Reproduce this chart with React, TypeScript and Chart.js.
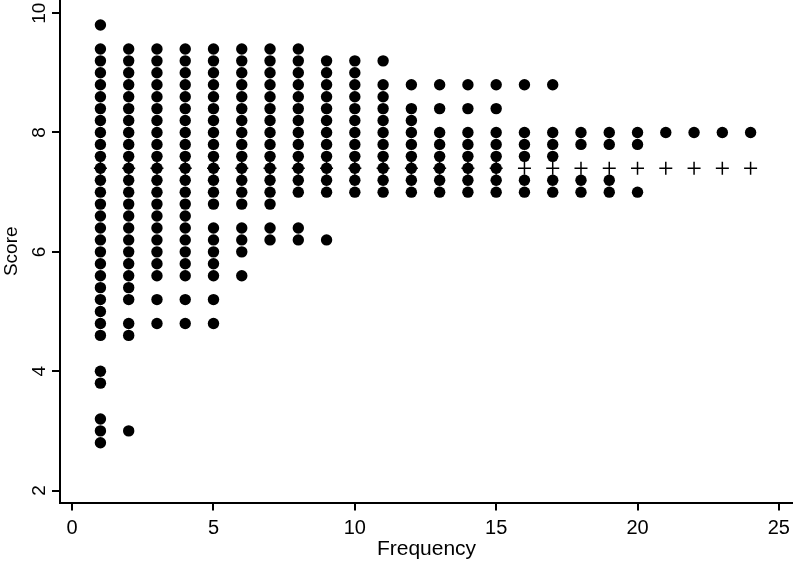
import { useEffect, useRef } from 'react';
import { Chart, registerables } from 'chart.js';

Chart.register(...registerables);

// Frequency values (x) for each column of scores
const frequencies = [1, 2, 3, 4, 5, 6, 7, 8, 9, 10, 11, 12, 13, 14, 15, 16, 17, 18, 19, 20, 21, 22, 23, 24];

// Scores observed at each frequency (one list per frequency, same order as above)
const scoresByFrequency: number[][] = [
  [9.8, 9.4, 9.2, 9.0, 8.8, 8.6, 8.4, 8.2, 8.0, 7.8, 7.6, 7.4, 7.2, 7.0, 6.8, 6.6, 6.4, 6.2, 6.0, 5.8, 5.6, 5.4, 5.2, 5.0, 4.8, 4.6, 4.0, 3.8, 3.2, 3.0, 2.8],
  [9.4, 9.2, 9.0, 8.8, 8.6, 8.4, 8.2, 8.0, 7.8, 7.6, 7.4, 7.2, 7.0, 6.8, 6.6, 6.4, 6.2, 6.0, 5.8, 5.6, 5.4, 5.2, 4.8, 4.6, 3.0],
  [9.4, 9.2, 9.0, 8.8, 8.6, 8.4, 8.2, 8.0, 7.8, 7.6, 7.4, 7.2, 7.0, 6.8, 6.6, 6.4, 6.2, 6.0, 5.8, 5.6, 5.2, 4.8],
  [9.4, 9.2, 9.0, 8.8, 8.6, 8.4, 8.2, 8.0, 7.8, 7.6, 7.4, 7.2, 7.0, 6.8, 6.6, 6.4, 6.2, 6.0, 5.8, 5.6, 5.2, 4.8],
  [9.4, 9.2, 9.0, 8.8, 8.6, 8.4, 8.2, 8.0, 7.8, 7.6, 7.4, 7.2, 7.0, 6.8, 6.4, 6.2, 6.0, 5.8, 5.6, 5.2, 4.8],
  [9.4, 9.2, 9.0, 8.8, 8.6, 8.4, 8.2, 8.0, 7.8, 7.6, 7.4, 7.2, 7.0, 6.8, 6.4, 6.2, 6.0, 5.6],
  [9.4, 9.2, 9.0, 8.8, 8.6, 8.4, 8.2, 8.0, 7.8, 7.6, 7.4, 7.2, 7.0, 6.8, 6.4, 6.2],
  [9.4, 9.2, 9.0, 8.8, 8.6, 8.4, 8.2, 8.0, 7.8, 7.6, 7.4, 7.2, 7.0, 6.4, 6.2],
  [9.2, 9.0, 8.8, 8.6, 8.4, 8.2, 8.0, 7.8, 7.6, 7.4, 7.2, 7.0, 6.2],
  [9.2, 9.0, 8.8, 8.6, 8.4, 8.2, 8.0, 7.8, 7.6, 7.4, 7.2, 7.0],
  [9.2, 8.8, 8.6, 8.4, 8.2, 8.0, 7.8, 7.6, 7.4, 7.2, 7.0],
  [8.8, 8.4, 8.2, 8.0, 7.8, 7.6, 7.4, 7.2, 7.0],
  [8.8, 8.4, 8.0, 7.8, 7.6, 7.4, 7.2, 7.0],
  [8.8, 8.4, 8.0, 7.8, 7.6, 7.4, 7.2, 7.0],
  [8.8, 8.4, 8.0, 7.8, 7.6, 7.4, 7.2, 7.0],
  [8.8, 8.0, 7.8, 7.6, 7.2, 7.0],
  [8.8, 8.0, 7.8, 7.6, 7.2, 7.0],
  [8.0, 7.8, 7.2, 7.0],
  [8.0, 7.8, 7.2, 7.0],
  [8.0, 7.8, 7.0],
  [8.0],
  [8.0],
  [8.0],
  [8.0],
];

// "+" markers (mean score per frequency)
const meanFrequencies = [1, 2, 3, 4, 5, 6, 7, 8, 9, 10, 11, 12, 13, 14, 15, 16, 17, 18, 19, 20, 21, 22, 23, 24];
const meanScores = [7.4, 7.4, 7.4, 7.4, 7.4, 7.4, 7.4, 7.4, 7.4, 7.4, 7.4, 7.4, 7.4, 7.4, 7.4, 7.4, 7.4, 7.4, 7.4, 7.4, 7.4, 7.4, 7.4, 7.4];

const xTickValues = [0, 5, 10, 15, 20, 25];
const xTickLabels = ['0', '5', '10', '15', '20', '25'];
const yTickValues = [2, 4, 6, 8, 10];
const yTickLabels = ['2', '4', '6', '8', '10'];
const xTitle = 'Frequency';
const yTitle = 'Score';

const FONT = '"Liberation Sans", Arial, sans-serif';

// Draws tick labels at the positions the library's scales give for each tick value
const tickLabelPlugin = {
  id: 'tickLabels',
  afterDraw(chart: any) {
    const ctx = chart.ctx;
    const ys = chart.scales.y;
    const xs = chart.scales.x;
    ctx.save();
    ctx.fillStyle = '#000';
    ctx.font = `19px ${FONT}`;
    ctx.textAlign = 'center';
    ctx.textBaseline = 'alphabetic';
    const anchorX = ys.right - 8 - 7;
    yTickValues.forEach((v, i) => {
      const py = ys.getPixelForValue(v);
      ctx.save();
      ctx.translate(anchorX, py);
      ctx.rotate(-Math.PI / 2);
      ctx.fillText(yTickLabels[i], 0, 0);
      ctx.restore();
    });
    ctx.font = `20px ${FONT}`;
    const baseY = xs.top + 8 + 23;
    xTickValues.forEach((v, i) => {
      const px = xs.getPixelForValue(v);
      ctx.fillText(xTickLabels[i], px, baseY);
    });
    ctx.restore();
  },
};

export default function App() {
  const ref = useRef<HTMLCanvasElement | null>(null);

  useEffect(() => {
    if (!ref.current) return;
    const points = frequencies.flatMap((f, i) => scoresByFrequency[i].map((s) => ({ x: f, y: s })));
    const means = meanFrequencies.map((f, i) => ({ x: f, y: meanScores[i] }));

    const chart = new Chart(ref.current, {
      type: 'scatter',
      data: {
        datasets: [
          {
            label: 'Score',
            data: points,
            pointStyle: 'circle',
            pointRadius: 5.7,
            backgroundColor: '#000',
            borderColor: '#000',
            borderWidth: 0,
            order: 2,
          },
          {
            label: 'Mean',
            data: means,
            pointStyle: 'cross',
            pointRadius: 6.5,
            backgroundColor: '#000',
            borderColor: '#000',
            borderWidth: 1.5,
            order: 1,
          },
        ],
      },
      options: {
        responsive: false,
        animation: false,
        layout: { padding: 0, autoPadding: false },
        plugins: { legend: { display: false }, tooltip: { enabled: false } },
        scales: {
          x: {
            type: 'linear',
            min: -0.43,
            max: 25.5,
            afterBuildTicks: (scale: any) => {
              scale.ticks = xTickValues.map((v) => ({ value: v }));
            },
            afterFit: (scale: any) => {
              scale.height = 61.5;
            },
            ticks: { display: false },
            grid: { drawOnChartArea: false, drawTicks: true, tickLength: 8, color: '#000', lineWidth: 2 },
            border: { display: true, color: '#000', width: 2 },
            title: {
              display: true,
              text: xTitle,
              color: '#000',
              font: { family: FONT, size: 21 },
              padding: { top: 0, bottom: 2 },
            },
          },
          y: {
            type: 'linear',
            min: 1.8,
            max: 10.22,
            afterBuildTicks: (scale: any) => {
              scale.ticks = yTickValues.map((v) => ({ value: v }));
            },
            afterFit: (scale: any) => {
              scale.width = 60;
            },
            ticks: { display: false },
            grid: { drawOnChartArea: false, drawTicks: true, tickLength: 8, color: '#000', lineWidth: 2 },
            border: { display: true, color: '#000', width: 2 },
            title: {
              display: true,
              text: yTitle,
              color: '#000',
              font: { family: FONT, size: 19 },
              padding: { top: 0, bottom: 0 },
            },
          },
        },
      },
      plugins: [tickLabelPlugin],
    });
    return () => chart.destroy();
  }, []);

  return (
    <div style={{ position: 'fixed', left: 0, top: 0, width: 793, height: 564, background: '#fff' }}>
      <canvas ref={ref} width={793} height={564} style={{ display: 'block', width: 793, height: 564 }} />
    </div>
  );
}
